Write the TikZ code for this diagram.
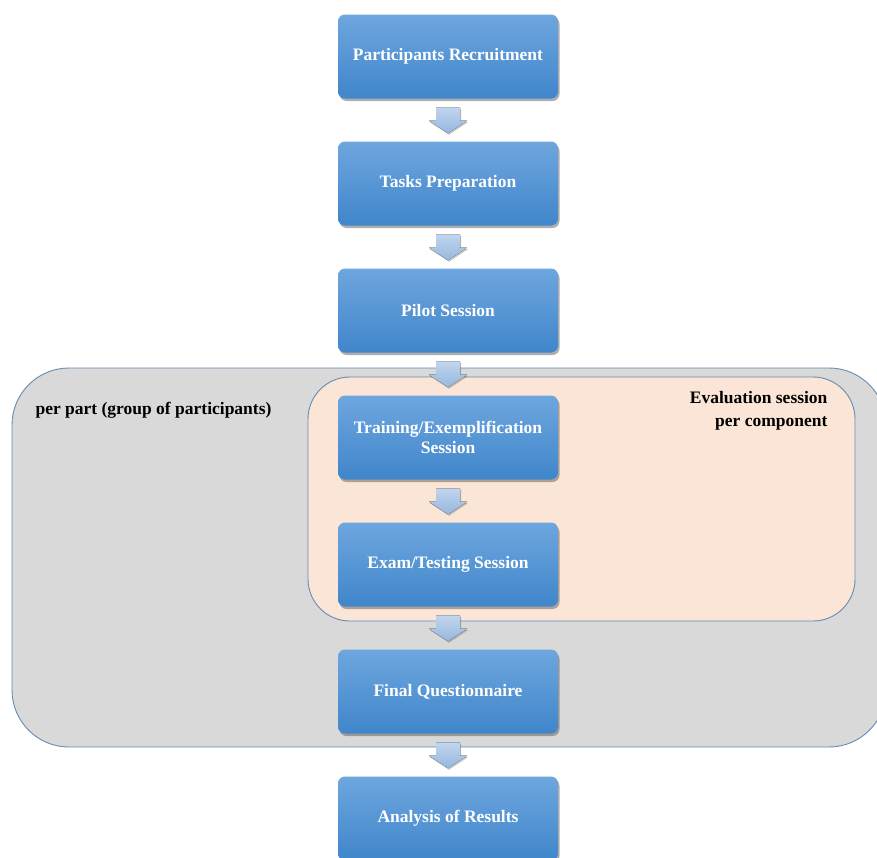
\documentclass[tikz,border=0pt]{standalone}
\usepackage{fontspec}
\setmainfont{Liberation Serif}
\usetikzlibrary{shadows,calc}

\definecolor{boxtop}{RGB}{110,166,222}
\definecolor{boxbot}{RGB}{64,134,203}
\definecolor{arrtop}{RGB}{192,213,238}
\definecolor{arrbot}{RGB}{150,183,222}
\definecolor{groupfill}{RGB}{217,217,217}
\definecolor{evalfill}{RGB}{251,229,214}
\definecolor{frameline}{RGB}{100,140,180}

\tikzset{
  stepbox/.style={
    rectangle, rounded corners=7pt,
    minimum width=220pt, minimum height=84pt,
    top color=boxtop, bottom color=boxbot, draw=none,
    drop shadow={shadow xshift=1.5pt, shadow yshift=-2.5pt, opacity=0.45, fill=black!70},
    text=white, align=center,
    font=\bfseries\fontsize{17.5}{20}\selectfont
  },
  framebox/.style={draw=frameline, line width=0.9pt},
  labeltext/.style={font=\bfseries\fontsize{17.5}{23}\selectfont, text=black},
  flowarrow/.style={top color=arrtop, bottom color=arrbot, draw=none,
    drop shadow={shadow xshift=1pt, shadow yshift=-1.5pt, opacity=0.35, fill=black!60}}
}

% block arrow hanging below node #1, pointing down toward node #2
\newcommand{\flowstep}[2]{%
  \path ($(#1.south)+(0,9)$) coordinate (#1-#2-top);
  \fill[flowarrow] ($(#1-#2-top)+(-12,0)$) -- ($(#1-#2-top)+(12,0)$)
    -- ($(#1-#2-top)+(12,13)$) -- ($(#1-#2-top)+(19,13)$)
    -- ($(#2.north)+(0,-8)$)
    -- ($(#1-#2-top)+(-19,13)$) -- ($(#1-#2-top)+(-12,13)$) -- cycle;%
}

\begin{document}
\begin{tikzpicture}[x=1pt, y=-1pt]
  \useasboundingbox (0,0) rectangle (877,857);
  \begin{scope}
    \clip (0,0) rectangle (877,857);

    % group of participants
    \draw[framebox, fill=groupfill, rounded corners=57pt] (12,368) rectangle (886,747);
    % evaluation per component
    \draw[framebox, fill=evalfill, rounded corners=42pt] (308,377) rectangle (855,621);

    \node[labeltext, anchor=west] (grp) at (32,410) {per part (group of participants)};
    \node[labeltext, anchor=east, align=right] (evl) at (831,411) {Evaluation session\\per component};

    % process steps
    \node[stepbox] (rec) at (448,56.5) {Participants Recruitment};
    \node[stepbox] (prep) at (448,183.5) {Tasks Preparation};
    \node[stepbox] (pilot) at (448,310.5) {Pilot Session};
    \node[stepbox] (train) at (448,437.5) {Training/Exemplification\\Session};
    \node[stepbox] (exam) at (448,564.5) {Exam/Testing Session};
    \node[stepbox] (quest) at (448,691.5) {Final Questionnaire};
    \node[stepbox] (res) at (448,818.5) {Analysis of Results};

    % connectors
    \flowstep{rec}{prep}
    \flowstep{prep}{pilot}
    \flowstep{pilot}{train}
    \flowstep{train}{exam}
    \flowstep{exam}{quest}
    \flowstep{quest}{res}
  \end{scope}
\end{tikzpicture}
\end{document}
